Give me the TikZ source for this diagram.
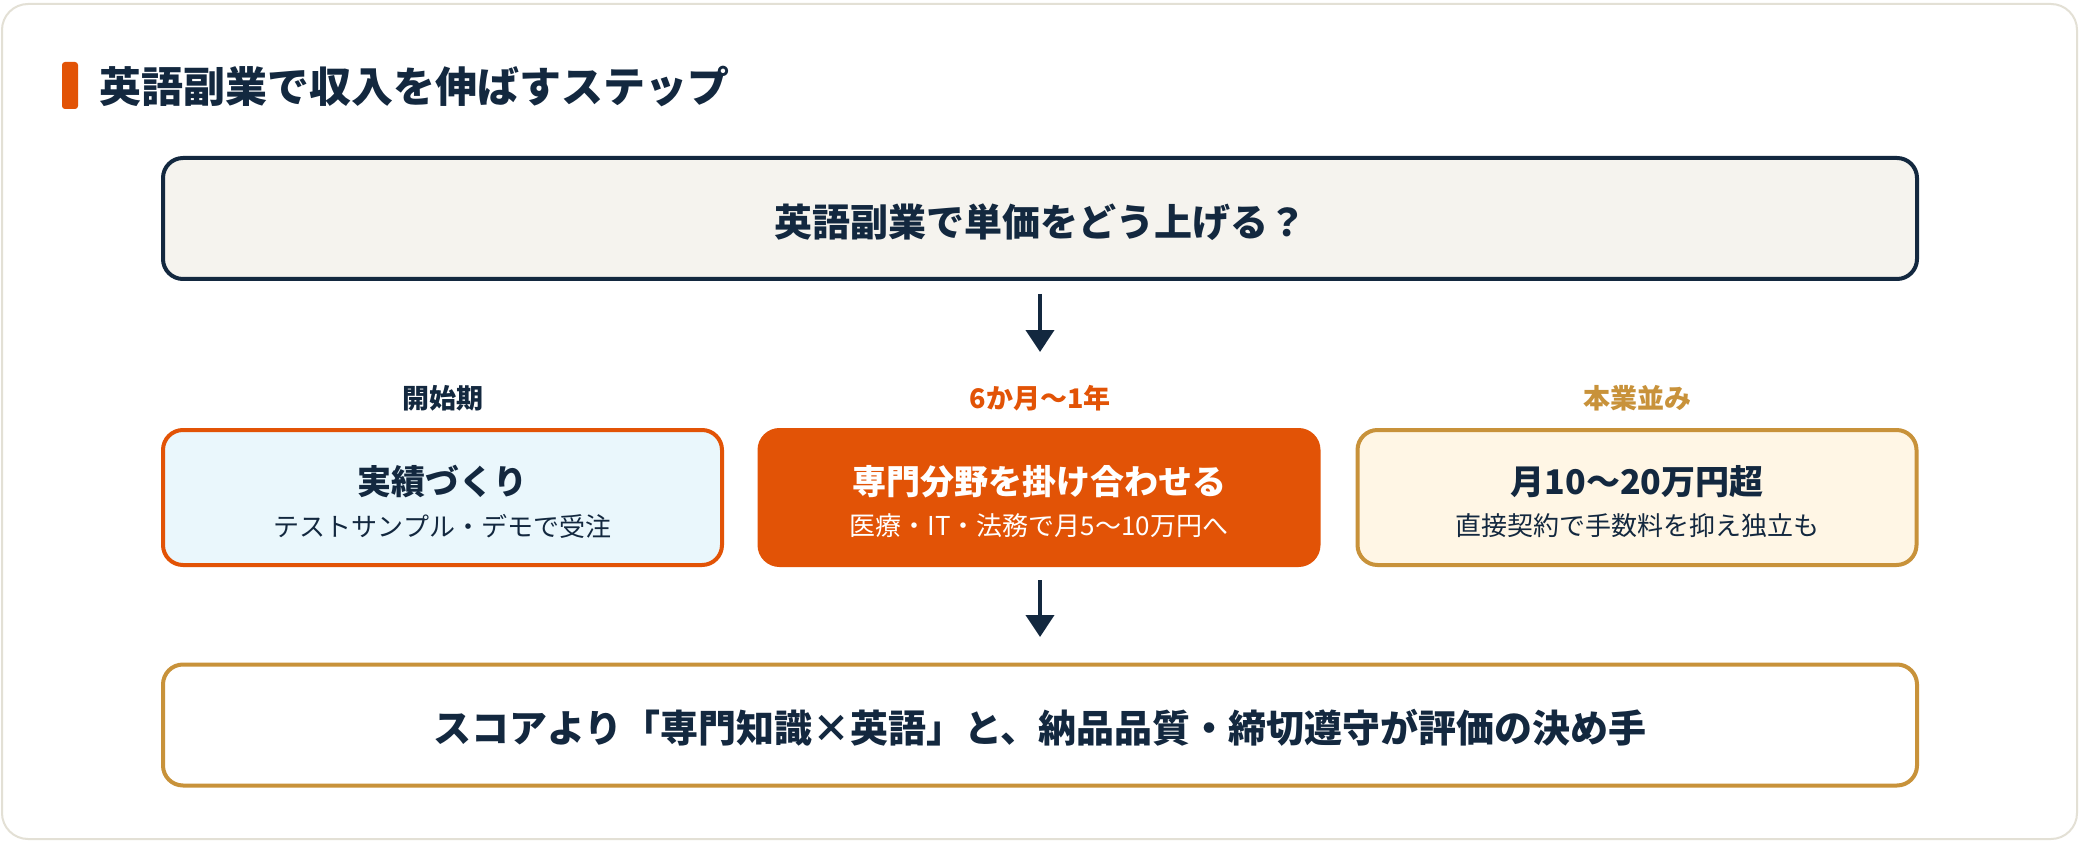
\documentclass[tikz,border=0pt]{standalone}
\usepackage{fontspec}
\setmainfont{Noto Sans CJK JP}
\usetikzlibrary{arrows.meta}
\definecolor{navy}{HTML}{13283F}
\definecolor{orng}{HTML}{E25306}
\definecolor{gold}{HTML}{C8923A}
\definecolor{cardline}{HTML}{E3E0D5}
\definecolor{topfill}{HTML}{F5F3EE}
\definecolor{leftfill}{HTML}{EAF7FC}
\definecolor{rightfill}{HTML}{FFF6E5}
\newcommand{\fs}[1]{\fontsize{#1}{#1}\selectfont}
\tikzset{
  wide/.style={rounded corners=20pt, line width=4pt, minimum width=1754pt, minimum height=121pt, inner sep=0pt},
  stage/.style={rounded corners=20pt, line width=4pt, minimum width=559pt, minimum height=135pt, inner sep=0pt},
  phase/.style={font=\fs{27}\bfseries},
  btitle/.style={font=\fs{34}\bfseries},
  bsub/.style={font=\fs{26}},
  flow/.style={draw=navy, line width=4pt, -{Triangle[width=28pt,length=22pt]}}
}
\begin{document}
\begin{tikzpicture}[x=1pt,y=-1pt]
\useasboundingbox (0,0) rectangle (2080,842);
\fill[white] (0,0) rectangle (2080,842);
\draw[cardline, line width=2pt, fill=white, rounded corners=26pt] (2,4) rectangle (2077,839);
\fill[orng, rounded corners=3pt] (62,62) rectangle (78,109);
\node[anchor=west, text=navy, font=\fs{42}\bfseries, inner sep=0pt] (title) at (99,87) {英語副業で収入を伸ばすステップ};

\node[wide, draw=navy, fill=topfill] (top) at (1040,218.5) {};
\node[text=navy, font=\fs{38}\bfseries] (toptext) at (1040,222) {英語副業で単価をどう上げる？};

\node[phase, text=navy] (p1) at (443,398) {開始期};
\node[phase, text=orng] (p2) at (1040,398) {6か月〜1年};
\node[phase, text=gold] (p3) at (1637,398) {本業並み};

\node[stage, draw=orng, fill=leftfill] (s1) at (442.5,497.5) {};
\node[stage, draw=orng, fill=orng] (s2) at (1039,497.5) {};
\node[stage, draw=gold, fill=rightfill] (s3) at (1637,497.5) {};

\node[btitle, text=navy] (s1t) at (442.5,482) {実績づくり};
\node[bsub, text=navy] (s1s) at (442.5,526) {テストサンプル・デモで受注};
\node[btitle, text=white] (s2t) at (1039,482) {専門分野を掛け合わせる};
\node[bsub, text=white] (s2s) at (1039,526) {医療・IT・法務で月5〜10万円へ};
\node[btitle, text=navy] (s3t) at (1637,482) {月10〜20万円超};
\node[bsub, text=navy] (s3s) at (1637,526) {直接契約で手数料を抑え独立も};

\node[wide, draw=gold, fill=white] (bot) at (1040,725) {};
\node[text=navy, font=\fs{38}\bfseries] (bottext) at (1040,728) {スコアより「専門知識×英語」と、納品品質・締切遵守が評価の決め手};

\coordinate (a1s) at (1040,294);
\coordinate (a1e) at (1040,352);
\coordinate (a2s) at (1040,580);
\coordinate (a2e) at (1040,637);
\draw[flow] (top.south -| a1s) ++(0,13) -- (a1e);
\draw[flow] (s2.south -| a2s) ++(0,13) -- (a2e);
\end{tikzpicture}
\end{document}
